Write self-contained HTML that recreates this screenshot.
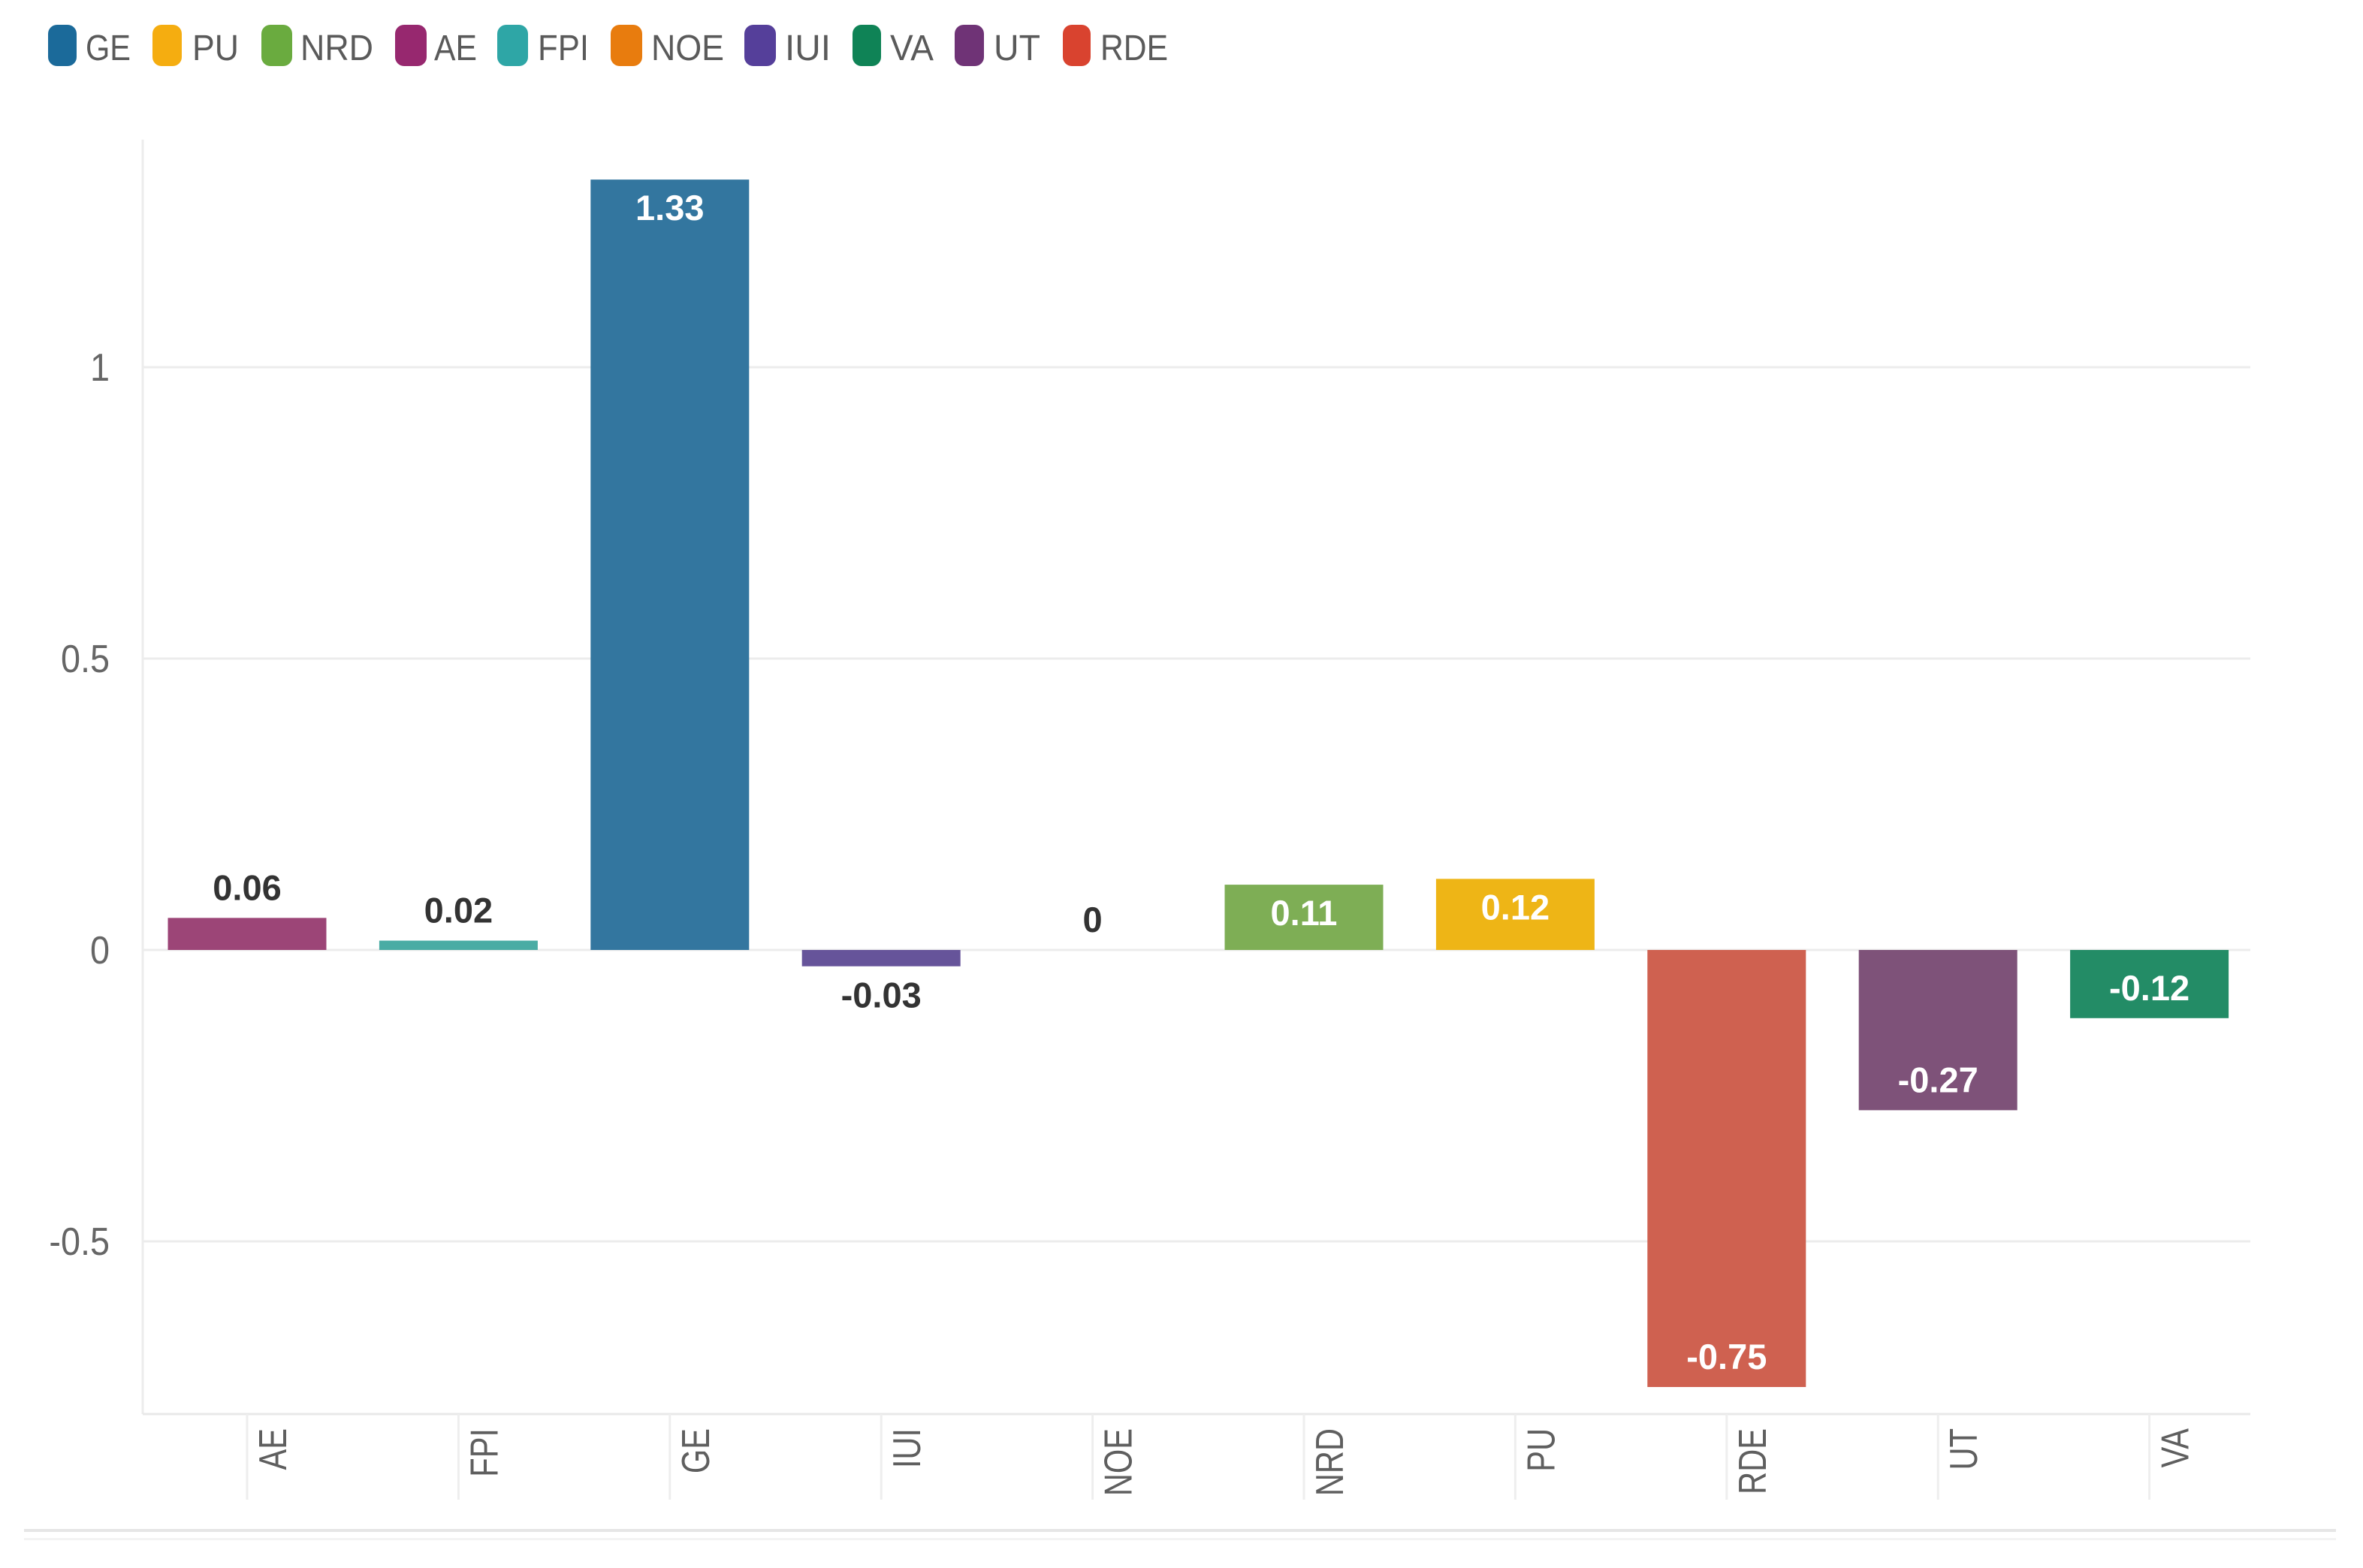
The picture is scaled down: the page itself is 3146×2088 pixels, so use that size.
<!DOCTYPE html>
<html lang="en">
<head>
<meta charset="utf-8">
<title>Bar chart</title>
<style>
html,body{margin:0;padding:0;background:#fff;width:3146px;height:2088px;overflow:hidden}
svg{display:block;font-family:"Liberation Sans",sans-serif}
</style>
</head>
<body>
<svg id="chart" xmlns="http://www.w3.org/2000/svg" width="3146" height="2088" viewBox="0 0 3146 2088">
  <rect width="3146" height="2088" fill="#ffffff"/>
  <g id="legend" font-size="48" fill="#5a5a5a">
    <g><rect x="64" y="33" width="38" height="55" rx="12" fill="#1b6a9a"/><text x="114" y="80" textLength="60" lengthAdjust="spacingAndGlyphs">GE</text></g>
    <g><rect x="203" y="33" width="39" height="55" rx="12" fill="#f5ad10"/><text x="256" y="80" textLength="62" lengthAdjust="spacingAndGlyphs">PU</text></g>
    <g><rect x="348" y="33" width="41" height="55" rx="12" fill="#6aab3f"/><text x="400" y="80" textLength="97" lengthAdjust="spacingAndGlyphs">NRD</text></g>
    <g><rect x="526" y="33" width="42" height="55" rx="12" fill="#97286f"/><text x="578" y="80" textLength="57" lengthAdjust="spacingAndGlyphs">AE</text></g>
    <g><rect x="662" y="33" width="41" height="55" rx="12" fill="#2ea6a6"/><text x="716" y="80" textLength="68" lengthAdjust="spacingAndGlyphs">FPI</text></g>
    <g><rect x="813" y="33" width="42" height="55" rx="12" fill="#e87c0e"/><text x="867" y="80" textLength="97" lengthAdjust="spacingAndGlyphs">NOE</text></g>
    <g><rect x="991" y="33" width="42" height="55" rx="12" fill="#553f9a"/><text x="1045" y="80" textLength="61" lengthAdjust="spacingAndGlyphs">IUI</text></g>
    <g><rect x="1135" y="33" width="38" height="55" rx="12" fill="#0f8356"/><text x="1185" y="80" textLength="58" lengthAdjust="spacingAndGlyphs">VA</text></g>
    <g><rect x="1271" y="33" width="39" height="55" rx="12" fill="#6f3376"/><text x="1323" y="80" textLength="62" lengthAdjust="spacingAndGlyphs">UT</text></g>
    <g><rect x="1415" y="33" width="37" height="55" rx="12" fill="#d9432f"/><text x="1465" y="80" textLength="90" lengthAdjust="spacingAndGlyphs">RDE</text></g>
  </g>
  <g id="grid"></g>
  <line x1="190" y1="186" x2="190" y2="1883" stroke="#ececec" stroke-width="3"/>
  <line x1="190" y1="1883" x2="2996" y2="1883" stroke="#e8e8e8" stroke-width="3"/>
  <g id="ticks"></g>
  <g id="ylabels"></g>
  <g id="xlabels"></g>
  <g id="bars"></g>
  <g id="values"></g>
  <rect x="32" y="2036" width="3078" height="4" fill="#e6e6e6"/>
  <rect x="32" y="2048" width="3078" height="3" fill="#f3f3f3"/>
</svg>
<script>
const categories = ["AE", "FPI", "GE", "IUI", "NOE", "NRD", "PU", "RDE", "UT", "VA"];
const seriesValues = [0.055, 0.016, 1.322, -0.028, 0, 0.112, 0.122, -0.75, -0.275, -0.117];
const valueLabels = ["0.06", "0.02", "1.33", "-0.03", "0", "0.11", "0.12", "-0.75", "-0.27", "-0.12"];
const barColors = ["#9c4577", "#4aaca4", "#33769f", "#66549a", "#e8871e", "#7eae55", "#eeb516", "#cf6150", "#7e5279", "#238c66"];
const yTicks = [1, 0.5, 0, -0.5];
const yTickLabels = ["1", "0.5", "0", "-0.5"];

const NS = "http://www.w3.org/2000/svg";
const yZero = 1265, yUnit = 776;
const xFirst = 329, xStep = 281.4, barWidth = 211;
const yScale = v => yZero - v * yUnit;
const xScale = i => xFirst + i * xStep;

function make(tag, attrs, parent, text) {
  const el = document.createElementNS(NS, tag);
  for (const k in attrs) el.setAttribute(k, attrs[k]);
  if (text !== undefined) el.textContent = text;
  parent.appendChild(el);
  return el;
}

const gridG = document.getElementById("grid");
const yLabG = document.getElementById("ylabels");
yTicks.forEach((t, i) => {
  const line = make("line", {x1: 190, x2: 2996, y1: yScale(t), y2: yScale(t), stroke: "#ececec", "stroke-width": 3}, gridG);
  
  
  const label = make("text", {transform: "translate(146," + (yScale(t) + 18) + ") scale(0.9,1)", "text-anchor": "end", "font-size": 52, fill: "#666666"}, yLabG, yTickLabels[i]);
  
  
});

const tickG = document.getElementById("ticks");
const xLabG = document.getElementById("xlabels");
const barG = document.getElementById("bars");
const valG = document.getElementById("values");
categories.forEach((c, i) => {
  const x = xScale(i);
  const tick = make("line", {x1: x, x2: x, y1: 1883, y2: 1997, stroke: "#eeeeee", "stroke-width": 3}, tickG);
  
  

  const label = make("text", {transform: "translate(" + (x + 52) + ",1902) rotate(-90) scale(0.8,1)", "text-anchor": "end", "font-size": 52, fill: "#5f5f5f"}, xLabG, c);
  
  

  const v = seriesValues[i];
  const top = yScale(Math.max(v, 0));
  const bottom = yScale(Math.min(v, 0));
  const bar = make("rect", {x: x - barWidth / 2, y: top, width: barWidth, height: bottom - top, fill: barColors[i]}, barG);
  
  

  const inside = Math.abs(v) >= 0.1;
  let cy;
  if (v >= 0) cy = inside ? top + 38 : top - 40;
  else cy = inside ? bottom - 40 : bottom + 39;
  const val = make("text", {x: x, y: cy + 16, "text-anchor": "middle", "font-size": 47, "font-weight": "bold", fill: inside ? "#ffffff" : "#333333"}, valG, valueLabels[i]);
  
  
});
</script>
</body>
</html>
